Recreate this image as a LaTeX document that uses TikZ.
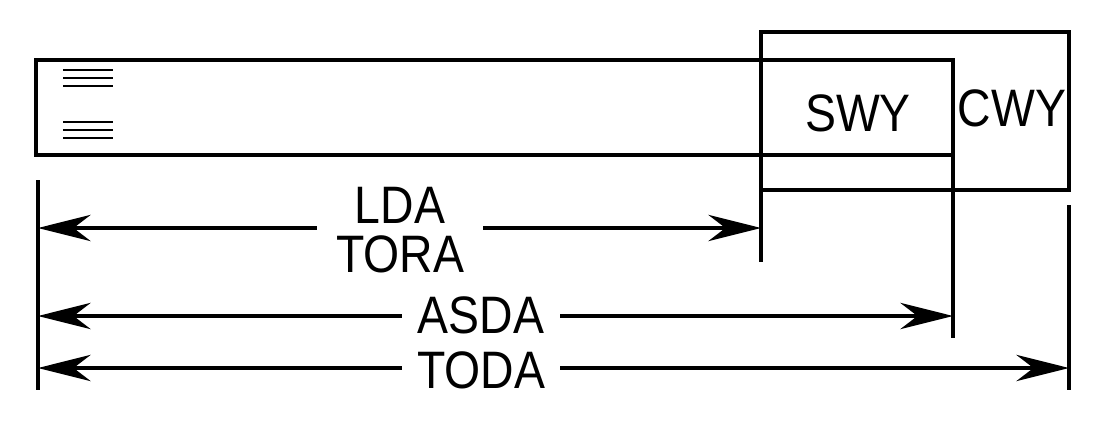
\documentclass[tikz,border=0pt]{standalone}
\usepackage{fontspec}
\setmainfont{Liberation Sans}
\usetikzlibrary{arrows.meta}

\begin{document}
\begin{tikzpicture}[x=0.02cm,y=-0.02cm,line width=2.4pt]
  \tikzstyle{dim}=[{Stealth[length=30pt,width=15pt]}-{Stealth[length=30pt,width=15pt]},line width=1.8pt]
  \tikzstyle{lbl}=[fill=white,inner sep=4pt,font=\fontsize{30}{30}\selectfont,xscale=0.88]
  \useasboundingbox (0,0) rectangle (1108,426);

  % runway and clearway
  \draw (36,60) rectangle (953,155);
  \draw (761,32) rectangle (1069,190);
  \node[lbl,fill=none] (swy) at (858,113) {SWY};
  \node[lbl,fill=none] (cwy) at (1012,108) {CWY};

  % threshold bars
  \foreach \y in {70,78,86,122,130,138}
    \draw[line width=1.3pt] (63,\y) -- (113,\y);

  % ticks
  \coordinate (t0) at (38,180);  \coordinate (b0) at (38,390);
  \coordinate (t1) at (761,190); \coordinate (b1) at (761,262);
  \coordinate (t2) at (953,155); \coordinate (b2) at (953,338);
  \coordinate (t3) at (1069,205);\coordinate (b3) at (1069,390);
  \foreach \i in {0,1,2,3}
    \draw[line width=1.8pt] (t\i) -- (b\i);

  % distances
  \coordinate (lda-l) at (38,228);  \coordinate (lda-r) at (761,228);
  \coordinate (asda-l) at (38,316); \coordinate (asda-r) at (953,316);
  \coordinate (toda-l) at (38,368); \coordinate (toda-r) at (1069,368);
  \foreach \d in {lda,asda,toda}
    \draw[dim] (\d-l) -- (\d-r);
  \node[lbl,inner xsep=12pt,align=center] (lda) at (400,230) {LDA\\[-2pt]TORA};
  \node[lbl,inner xsep=10pt] (asda) at (481,315) {ASDA};
  \node[lbl,inner xsep=10pt] (toda) at (481,370) {TODA};
\end{tikzpicture}
\end{document}
